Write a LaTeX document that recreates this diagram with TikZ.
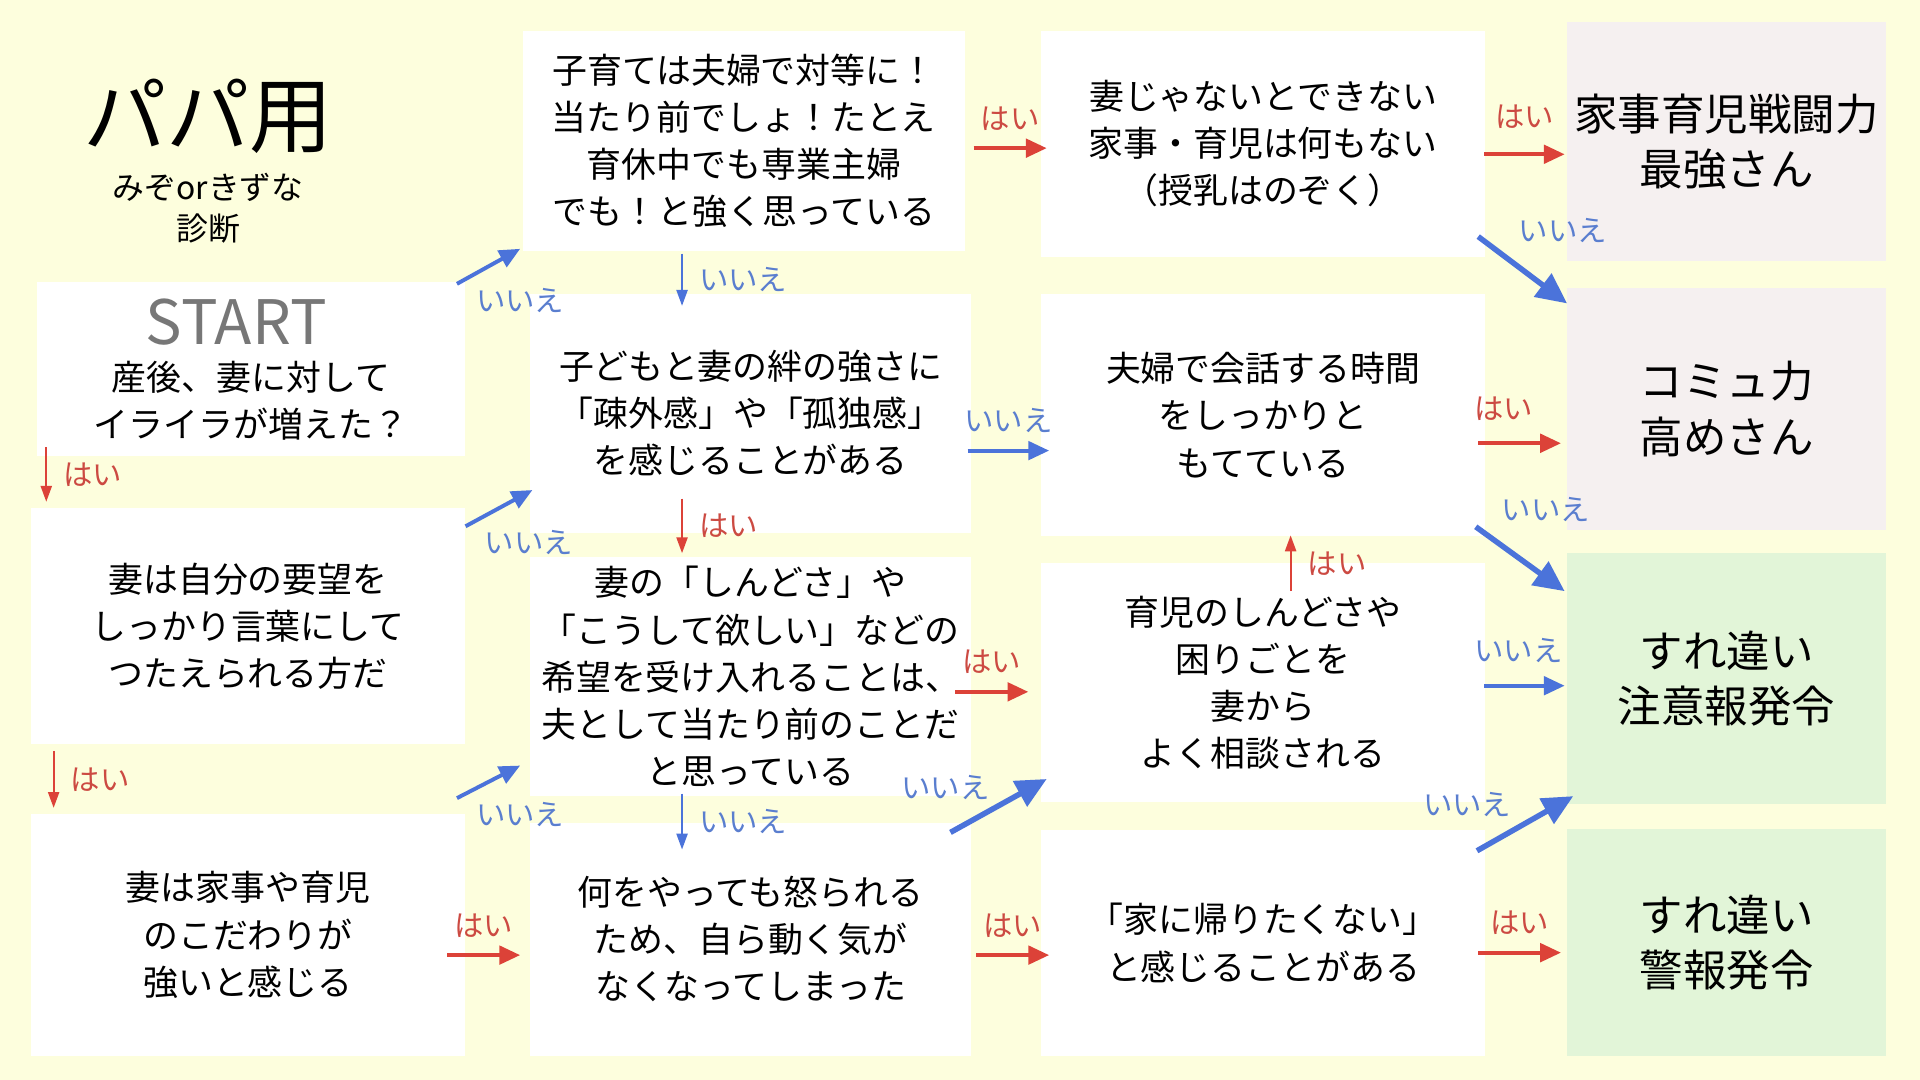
\documentclass[tikz,border=0pt]{standalone}
\usepackage{fontspec}
\setmainfont{Noto Sans CJK JP}
\usetikzlibrary{arrows.meta,positioning}
\definecolor{bgyellow}{HTML}{FDFEDD}
\definecolor{resultpink}{HTML}{F5F0F0}
\definecolor{resultgreen}{HTML}{E2F5D8}
\definecolor{yesred}{HTML}{DC4238}
\definecolor{noblue}{HTML}{4B73DA}
\definecolor{yestext}{HTML}{CC4A42}
\definecolor{notext}{HTML}{5A7ECF}
\definecolor{startgray}{HTML}{777777}

\begin{document}
\begin{tikzpicture}[x=1pt, y=-1pt,
    qbox/.style={fill=white, align=center, inner sep=0pt, font=\fontsize{28.5}{38.5}\selectfont},
    rbox/.style={align=center, inner sep=0pt, font=\fontsize{35.5}{45}\selectfont},
    thinyes/.style={draw=yesred, line width=1.8pt, -{Triangle[length=13pt,width=9pt]}},
    thinno/.style={draw=noblue, line width=1.8pt, -{Triangle[length=13pt,width=9pt]}},
    yesarr/.style={draw=yesred, line width=3.2pt, -{Triangle[length=17pt,width=15pt]}},
    noarr/.style={draw=noblue, line width=3.2pt, -{Triangle[length=17pt,width=15pt]}},
    bigno/.style={draw=noblue, line width=4.5pt, -{Triangle[length=25pt,width=23pt]}},
    yeslab/.style={text=yestext, inner sep=1pt, font=\fontsize{24}{24}\selectfont},
    nolab/.style={text=notext, inner sep=1pt, font=\fontsize{24}{24}\selectfont}
]
    \fill[bgyellow] (0,0) rectangle (1568,882);
    \useasboundingbox (0,0) rectangle (1568,882);

    % title
    \node[font=\fontsize{68}{68}\selectfont] (title) at (170,95) {パパ用};
    \node[align=center, font=\fontsize{26}{34}\selectfont] (subtitle) at (170,170) {みぞorきずな\\診断};

    % questions, column 1
    \node[qbox, minimum width=350, minimum height=142] (qstart) at (205,301) {};
    \node[text=startgray, inner sep=0pt, font=\fontsize{50}{50}\selectfont] (starttxt) at (193,263) {START};
    \node[align=center, inner sep=0pt, font=\fontsize{28.5}{38.5}\selectfont] (qstarttxt) at (205,327) {産後、妻に対して\\イライラが増えた？};
    \node[qbox, minimum width=355, minimum height=193] (qwish) at (202.5,511.5) {妻は自分の要望を\\しっかり言葉にして\\つたえられる方だ};
    \node[qbox, minimum width=355, minimum height=197] (qfuss) at (202.5,763.5) {妻は家事や育児\\のこだわりが\\強いと感じる};

    % column 2
    \node[qbox, minimum width=361, minimum height=180] (qequal) at (607.5,115) {子育ては夫婦で対等に！\\当たり前でしょ！たとえ\\育休中でも専業主婦\\でも！と強く思っている};
    \node[qbox, minimum width=360, minimum height=195] (qbond) at (613,337.5) {子どもと妻の絆の強さに\\「疎外感」や「孤独感」\\を感じることがある};
    \node[qbox, minimum width=360, minimum height=195] (qaccept) at (613,552.5) {妻の「しんどさ」や\\「こうして欲しい」などの\\希望を受け入れることは、\\夫として当たり前のことだ\\と思っている};
    \node[qbox, minimum width=360, minimum height=190] (qscold) at (613,767) {何をやっても怒られる\\ため、自ら動く気が\\なくなってしまった};

    % column 3
    \node[qbox, minimum width=363, minimum height=185] (qonly) at (1031.5,117.5) {妻じゃないとできない\\家事・育児は何もない\\（授乳はのぞく）};
    \node[qbox, minimum width=363, minimum height=198] (qtalk) at (1031.5,339) {夫婦で会話する時間\\をしっかりと\\もてている};
    \node[qbox, minimum width=363, minimum height=195] (qconsult) at (1031.5,557.5) {育児のしんどさや\\困りごとを\\妻から\\よく相談される};
    \node[qbox, minimum width=363, minimum height=184] (qhome) at (1031.5,770) {「家に帰りたくない」\\と感じることがある};

    % results
    \node[rbox, fill=resultpink, minimum width=260, minimum height=195] (rtop) at (1410,115.5) {家事育児戦闘力\\最強さん};
    \node[rbox, fill=resultpink, minimum width=260, minimum height=198] (rcomm) at (1410,334) {コミュ力\\高めさん};
    \node[rbox, fill=resultgreen, minimum width=260, minimum height=205] (rcaution) at (1410,554.5) {すれ違い\\注意報発令};
    \node[rbox, fill=resultgreen, minimum width=260, minimum height=185] (ralarm) at (1410,769.5) {すれ違い\\警報発令};

    % arrows
    \draw[noarr] ([shift={(-7,2)}]qstart.north east) -- ([shift={(-2,-2)}]qequal.south west)
        node[nolab, at start, anchor=north west, xshift=13pt, yshift=-1pt] (l1) {いいえ};
    \draw[thinyes] ([shift={(8,-7)}]qstart.south west) -- ([shift={(13,-5)}]qwish.north west)
        node[yeslab, midway, right=12pt] (l2) {はい};
    \draw[yesarr] ([shift={(7,6)}]qequal.east) -- ([shift={(5,3.5)}]qonly.west)
        node[yeslab, midway, above=12pt] (l3) {はい};
    \draw[thinno] ([shift={(-50.5,2)}]qequal.south) -- ([shift={(-56,10)}]qbond.north)
        node[nolab, midway, right=12pt] (l4) {いいえ};
    \draw[yesarr] ([shift={(-1,8.5)}]qonly.east) -- ([shift={(-2,10.5)}]rtop.west)
        node[yeslab, midway, above=18pt] (l5) {はい};
    \draw[bigno] ([shift={(-6,-17)}]qonly.south east) -- ([shift={(0,13)}]rcomm.north west)
        node[nolab, at start, anchor=south west, xshift=30pt, yshift=-8pt] (l6) {いいえ};
    \draw[noarr] ([shift={(-3,30.5)}]qbond.east) -- ([shift={(7,29)}]qtalk.west)
        node[nolab, midway, above=12pt] (l7) {いいえ};
    \draw[thinyes] ([shift={(-56,-28)}]qbond.south) -- ([shift={(-56,-3)}]qaccept.north)
        node[yeslab, midway, right=12pt] (l8) {はい};
    \draw[noarr] ([shift={(0,15)}]qwish.north east) -- ([shift={(2,-35)}]qbond.south west)
        node[nolab, at start, anchor=north west, xshift=13pt, yshift=-1pt] (l9) {いいえ};
    \draw[thinyes] ([shift={(19,5)}]qwish.south west) -- ([shift={(19,-5)}]qfuss.north west)
        node[yeslab, midway, right=12pt] (l10) {はい};
    \draw[yesarr] ([shift={(-6,23)}]qtalk.east) -- ([shift={(-5,28)}]rcomm.west)
        node[yeslab, midway, above=16pt, xshift=-13pt] (l11) {はい};
    \draw[bigno] ([shift={(-8,-8)}]qtalk.south east) -- ([shift={(-2,31)}]rcaution.north west)
        node[nolab, at start, anchor=south west, xshift=18pt, yshift=1pt] (l12) {いいえ};
    \draw[yesarr] ([shift={(-13,12.5)}]qaccept.east) -- ([shift={(-10,7.5)}]qconsult.west)
        node[yeslab, midway, above=12pt] (l13) {はい};
    \draw[thinno] ([shift={(-56,-2)}]qaccept.south) -- ([shift={(-56,22)}]qscold.north)
        node[nolab, midway, right=12pt] (l14) {いいえ};
    \draw[thinyes] ([shift={(22.5,23)}]qconsult.north) -- ([shift={(22.5,-1)}]qtalk.south)
        node[yeslab, midway, right=12pt] (l15) {はい};
    \draw[noarr] ([shift={(-1,2.5)}]qconsult.east) -- ([shift={(-2,5.5)}]rcaution.west)
        node[nolab, midway, above=16pt, xshift=-5pt] (l16) {いいえ};
    \draw[yesarr] ([shift={(-15,16.5)}]qfuss.east) -- ([shift={(-8,13)}]qscold.west)
        node[yeslab, midway, above=12pt] (l17) {はい};
    \draw[noarr] ([shift={(-7,-13)}]qfuss.north east) -- ([shift={(-8,-25)}]qaccept.south west)
        node[nolab, at start, anchor=north west, xshift=13pt, yshift=-1pt] (l18) {いいえ};
    \draw[bigno] ([shift={(-17,8)}]qscold.north east) -- ([shift={(5,-19)}]qconsult.south west)
        node[nolab, midway, anchor=south east, xshift=-4pt, yshift=2pt] (l19) {いいえ};
    \draw[yesarr] ([shift={(4,13)}]qscold.east) -- ([shift={(7,10)}]qhome.west)
        node[yeslab, midway, above=12pt] (l20) {はい};
    \draw[yesarr] ([shift={(-6,8)}]qhome.east) -- ([shift={(-5,8.5)}]ralarm.west)
        node[yeslab, midway, above=12pt] (l21) {はい};
    \draw[bigno] ([shift={(-7,17)}]qhome.north east) -- ([shift={(5,-7)}]rcaution.south west)
        node[nolab, midway, anchor=south east, xshift=-8pt, yshift=2pt] (l22) {いいえ};
\end{tikzpicture}
\end{document}
